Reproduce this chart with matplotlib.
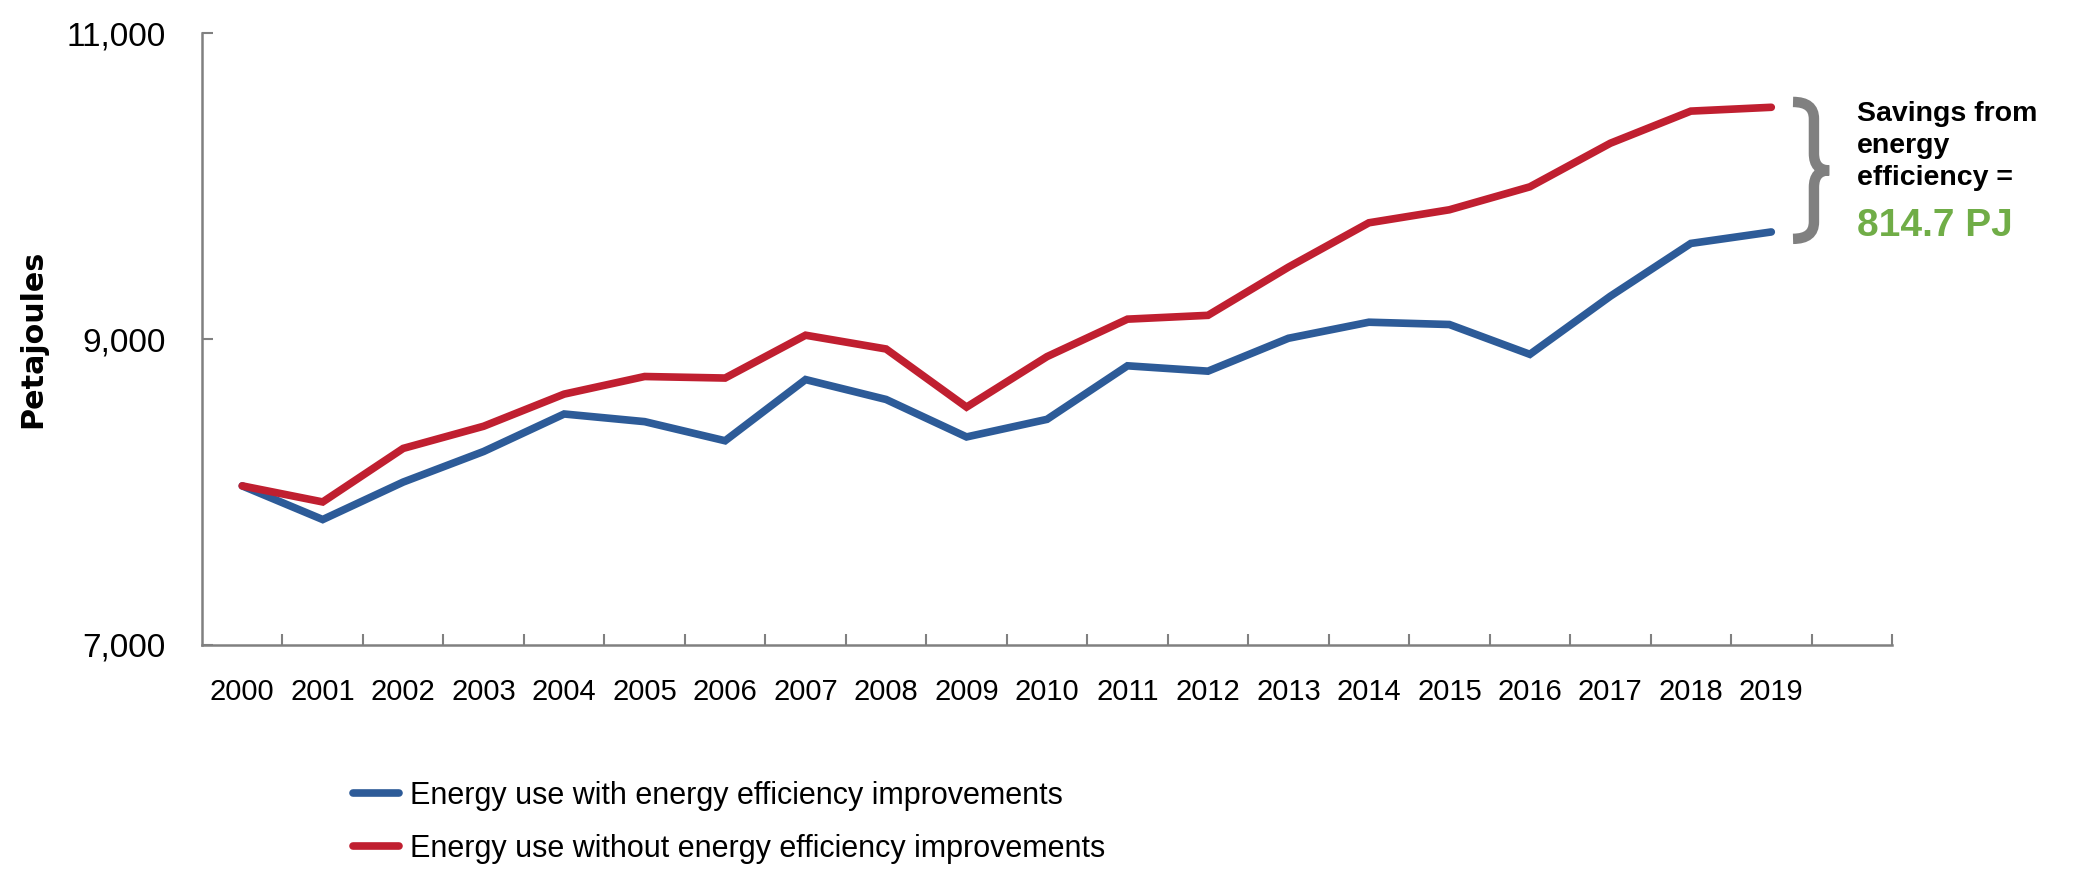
import numpy as np
import matplotlib
matplotlib.use("Agg")
import matplotlib.pyplot as plt
from matplotlib.path import Path
from matplotlib.patches import PathPatch

# data (petajoules)
years = list(range(2000, 2020))
with_eff = [8040, 7820, 8065, 8265, 8510, 8460, 8335, 8735, 8605, 8360,
            8475, 8825, 8790, 9005, 9110, 9095, 8900, 9280, 9625, 9700]
without_eff = [8040, 7935, 8285, 8430, 8640, 8755, 8745, 9025, 8935, 8555,
               8885, 9130, 9155, 9470, 9760, 9845, 9995, 10280, 10490, 10515]
y_ticks = [7000, 9000, 11000]
labels = ["Energy use with energy efficiency improvements",
          "Energy use without energy efficiency improvements"]
savings_text = "Savings from\nenergy\nefficiency ="
savings_value = "814.7 PJ"

blue = "#2D5B98"
red = "#C01F30"
grey = "#808080"
green = "#70AD47"

plt.rcParams['font.family'] = ['Liberation Sans', 'DejaVu Sans']

fig = plt.figure(figsize=(20.89, 8.71), dpi=100)
ax = fig.add_axes([0.0967, 0.2595, 0.809, 0.7025])

x = np.arange(len(years))
l1, = ax.plot(x, with_eff, color=blue, lw=5.5, solid_joinstyle='miter', solid_capstyle='round')
l2, = ax.plot(x, without_eff, color=red, lw=5.5, solid_joinstyle='miter', solid_capstyle='round')

ax.set_xlim(-0.5, len(years) + 0.5)
ax.set_ylim(7000, 11000)
ax.set_yticks(y_ticks)
ax.set_yticklabels([f"{v:,}" for v in y_ticks], fontsize=24)
ax.set_xticks(x)
ax.set_xticklabels([str(y) for y in years], fontsize=21)
ax.set_xticks(np.arange(0.5, len(years) + 1), minor=True)
ax.tick_params(axis='x', which='major', length=0, pad=24)
ax.tick_params(axis='x', which='minor', direction='in', length=8, width=1.5, color=grey)
ax.tick_params(axis='y', direction='in', length=8, width=1.5, color=grey, pad=26)

for s in ['top', 'right']:
    ax.spines[s].set_visible(False)
for s in ['left', 'bottom']:
    ax.spines[s].set_color(grey)
    ax.spines[s].set_linewidth(1.8)

ax.set_ylabel("Petajoules", fontsize=21.7, fontweight='bold', family='DejaVu Sans', labelpad=14)

# curly brace between the two 2019 values
top = without_eff[-1] + 35
bot = with_eff[-1] - 45
mid = (top + bot) / 2
d = 110
x0, x1, x2 = 19.27, 19.53, 19.72
verts = [(x0, top), (x1, top), (x1, top - d),
         (x1, mid + d),
         (x1, mid), (x2, mid),
         (x1, mid), (x1, mid - d),
         (x1, bot + d),
         (x1, bot), (x0, bot)]
codes = [Path.MOVETO, Path.CURVE3, Path.CURVE3,
         Path.LINETO,
         Path.CURVE3, Path.CURVE3,
         Path.CURVE3, Path.CURVE3,
         Path.LINETO,
         Path.CURVE3, Path.CURVE3]
ax.add_patch(PathPatch(Path(verts, codes), fill=False, edgecolor=grey, lw=7.5,
                       capstyle='butt', joinstyle='miter', clip_on=False))

ax.text(20.06, 10555, savings_text, fontsize=20.5, fontweight='bold', va='top', ha='left',
        linespacing=1.3, clip_on=False)
ax.text(20.06, 9673, savings_value, fontsize=28, fontweight='bold', color=green,
        va='baseline', ha='left', clip_on=False)

fig.legend([l1, l2], labels, loc='upper left', bbox_to_anchor=(0.156, 0.135),
           frameon=False, fontsize=22, handlelength=1.5, handletextpad=0.35,
           labelspacing=0.75)

fig.savefig("out.png", dpi=100)
